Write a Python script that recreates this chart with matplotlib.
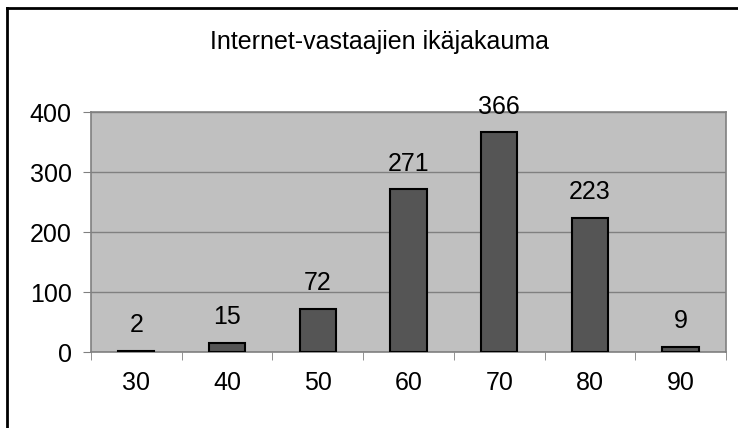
import matplotlib
matplotlib.use("Agg")
import matplotlib.pyplot as plt
from matplotlib.lines import Line2D

categories = ["30", "40", "50", "60", "70", "80", "90"]
values = [2, 15, 72, 271, 366, 223, 9]
yticks = [0, 100, 200, 300, 400]
title = "Internet-vastaajien ikäjakauma"

plt.rcParams['font.family'] = ['Liberation Sans', 'DejaVu Sans']
FS = 18

W, H = 738, 428
fig = plt.figure(figsize=(W / 100, H / 100), dpi=100)
ax = fig.add_axes([91 / W, 1 - 352 / H, (726 - 91) / W, (352 - 112) / H])
ax.set_facecolor("#c0c0c0")

x = list(range(len(categories)))
ax.bar(x, values, width=0.4, color="#555555", edgecolor="black", linewidth=1.5, zorder=3)
for xi, v in zip(x, values):
    ax.annotate(str(v), (xi, v), xytext=(0, 10), textcoords="offset points",
                ha="center", va="bottom", fontsize=FS, zorder=4, annotation_clip=False)

ax.set_xlim(-0.5, len(categories) - 0.5)
ax.set_ylim(0, 400)
ax.set_yticks(yticks)
ax.set_yticklabels([str(t) for t in yticks], fontsize=FS)
ax.set_xticks(x)
ax.set_xticklabels(categories, fontsize=FS)
ax.tick_params(axis="x", length=0, pad=14)
ax.set_xticks([i - 0.5 for i in range(len(categories) + 1)], minor=True)
ax.tick_params(axis="x", which="minor", length=6, color="#808080", direction="out")
ax.tick_params(axis="y", length=6, color="#808080", direction="out", pad=8)
ax.yaxis.grid(True, color="#808080", linewidth=1, zorder=1)
ax.set_axisbelow(True)
for s in ax.spines.values():
    s.set_color("#808080")
    s.set_linewidth(1.2)

fig.text(380 / W, 1 - 42 / H, title, ha="center", va="center", fontsize=FS)

# outer chart border (left and top visible)
fig.add_artist(Line2D([7 / W, 7 / W], [0, 1 - 8 / H], color="black", linewidth=2, transform=fig.transFigure))
fig.add_artist(Line2D([7 / W, 1], [1 - 8 / H, 1 - 8 / H], color="black", linewidth=2, transform=fig.transFigure))

fig.savefig("out.png", dpi=100)
